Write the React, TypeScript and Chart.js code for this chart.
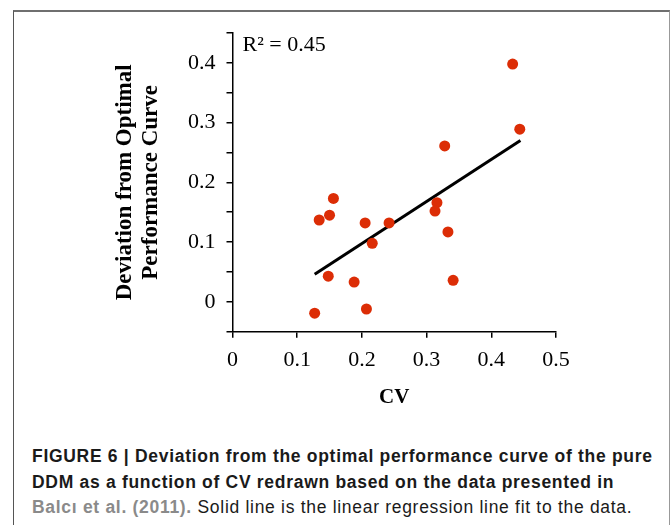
import React, { useEffect, useRef } from "react";
import { Chart, registerables } from "chart.js";

Chart.register(...registerables);

// ---- data ----
const cvValues = [0.433, 0.444, 0.328, 0.156, 0.316, 0.313, 0.15, 0.134, 0.205, 0.242, 0.216, 0.333, 0.148, 0.188, 0.341, 0.127, 0.207];
const deviationValues = [0.398, 0.289, 0.261, 0.173, 0.166, 0.152, 0.145, 0.137, 0.132, 0.132, 0.098, 0.117, 0.043, 0.033, 0.036, -0.019, -0.012];
const fitCV = [0.127, 0.445];
const fitDeviation = [0.046, 0.27];
const xTickValues = [0, 0.1, 0.2, 0.3, 0.4, 0.5];
const yLabelledTicks = [0, 0.1, 0.2, 0.3, 0.4];
const rSquaredLabel = "R\u00B2 = 0.45";
const yTitleLines = ["Deviation from Optimal", "Performance Curve"];
const xTitle = "CV";

const SERIF = '"Liberation Serif", "Times New Roman", serif';
const SANS = '"Liberation Sans Narrow", "Liberation Sans", Arial, sans-serif';

const rSquaredPlugin = {
  id: "rSquared",
  afterDraw(chart: any) {
    const { ctx, chartArea } = chart;
    ctx.save();
    ctx.font = `22px ${SERIF}`;
    ctx.fillStyle = "#000";
    ctx.textBaseline = "middle";
    ctx.textAlign = "left";
    ctx.fillText(rSquaredLabel, chartArea.left + 10, chartArea.top + 12);
    ctx.restore();
  },
};

function isLabelled(v: number, list: number[]) {
  return list.some((t) => Math.abs(t - v) < 1e-6);
}

export default function App() {
  const canvasRef = useRef<HTMLCanvasElement | null>(null);

  useEffect(() => {
    if (!canvasRef.current) return;
    const points = cvValues.map((x, i) => ({ x, y: deviationValues[i] }));
    const fit = fitCV.map((x, i) => ({ x, y: fitDeviation[i] }));
    const chart = new Chart(canvasRef.current, {
      type: "scatter",
      data: {
        datasets: [
          {
            data: points,
            backgroundColor: "#dc2d06",
            borderWidth: 0,
            pointRadius: 5.5,
            pointHoverRadius: 5.5,
          },
          {
            type: "line",
            data: fit,
            borderColor: "#000",
            borderWidth: 3,
            pointRadius: 0,
            fill: false,
            showLine: true,
          } as any,
        ],
      },
      options: {
        animation: false,
        responsive: false,
        devicePixelRatio: 1,
        layout: { padding: { left: 0, right: 114, top: 33, bottom: 0 } },
        plugins: {
          legend: { display: false },
          tooltip: { enabled: false },
          title: { display: false },
        },
        scales: {
          x: {
            type: "linear",
            min: 0,
            max: 0.5,
            afterBuildTicks: (s: any) => {
              s.ticks = xTickValues.map((v) => ({ value: v }));
            },
            afterFit: (s: any) => {
              s.height = 98.3;
            },
            ticks: {
              autoSkip: false,
              maxRotation: 0,
              color: "#000",
              padding: 9,
              font: { family: SERIF, size: 22 },
              callback: (v: any) => String(Math.round(Number(v) * 10) / 10),
            },
            grid: {
              drawOnChartArea: false,
              drawTicks: true,
              tickLength: 6,
              color: "#000",
              lineWidth: 1.5,
            },
            border: { display: true, color: "#000", width: 1.5 },
            title: {
              display: true,
              text: xTitle,
              color: "#000",
              font: { family: SERIF, size: 21, weight: "bold", lineHeight: 1.2 },
              padding: { top: 0, bottom: 19.5 },
            },
          },
          y: {
            type: "linear",
            min: -0.05,
            max: 0.45,
            afterBuildTicks: (s: any) => {
              const t = [];
              for (let i = -1; i <= 9; i++) t.push({ value: Math.round(i * 5) / 100 });
              s.ticks = t;
            },
            afterFit: (s: any) => {
              s.width = 232.5;
            },
            ticks: {
              autoSkip: false,
              color: "#000",
              padding: 11,
              font: { family: SERIF, size: 22 },
              callback: (v: any) => {
                const n = Number(v);
                return isLabelled(n, yLabelledTicks) ? String(Math.round(n * 10) / 10) : "";
              },
            },
            grid: {
              drawOnChartArea: false,
              drawTicks: true,
              tickLength: 6,
              color: "#000",
              lineWidth: 1.5,
            },
            border: { display: true, color: "#000", width: 1.5 },
            title: {
              display: true,
              text: yTitleLines,
              color: "#000",
              font: { family: SERIF, size: 23, weight: "bold", lineHeight: 1.13 },
              padding: { top: 112, bottom: 0 },
            },
          },
        },
      } as any,
      plugins: [rSquaredPlugin],
    });
    return () => chart.destroy();
  }, []);

  return (
    <div
      style={{
        position: "absolute",
        left: 0,
        top: 0,
        width: 670,
        height: 525,
        background: "#fff",
        overflow: "hidden",
      }}
    >
      <div
        style={{
          position: "absolute",
          left: 13,
          top: 10,
          width: 655,
          height: 530,
          borderTop: "2px solid #6f6f6f",
          borderLeft: "1px solid #555",
          borderRight: "1px solid #999",
        }}
      />
      <canvas
        ref={canvasRef}
        width={670}
        height={430}
        style={{ position: "absolute", left: 0, top: 0, width: 670, height: 430 }}
      />
      <div
        style={{
          position: "absolute",
          left: 32,
          top: 444,
          fontFamily: SANS,
          fontSize: 17.5,
          lineHeight: "25.5px",
          letterSpacing: "0.7px",
          color: "#1a1a1a",
          whiteSpace: "nowrap",
        }}
      >
        <div style={{ fontWeight: "bold" }}>
          FIGURE 6 | Deviation from the optimal performance curve of the pure
        </div>
        <div style={{ fontWeight: "bold" }}>
          DDM as a function of CV redrawn based on the data presented in
        </div>
        <div>
          <span style={{ fontWeight: "bold", color: "#8a8a8a" }}>Balcı et al. (2011).</span>{" "}
          Solid line is the linear regression line fit to the data.
        </div>
      </div>
    </div>
  );
}
